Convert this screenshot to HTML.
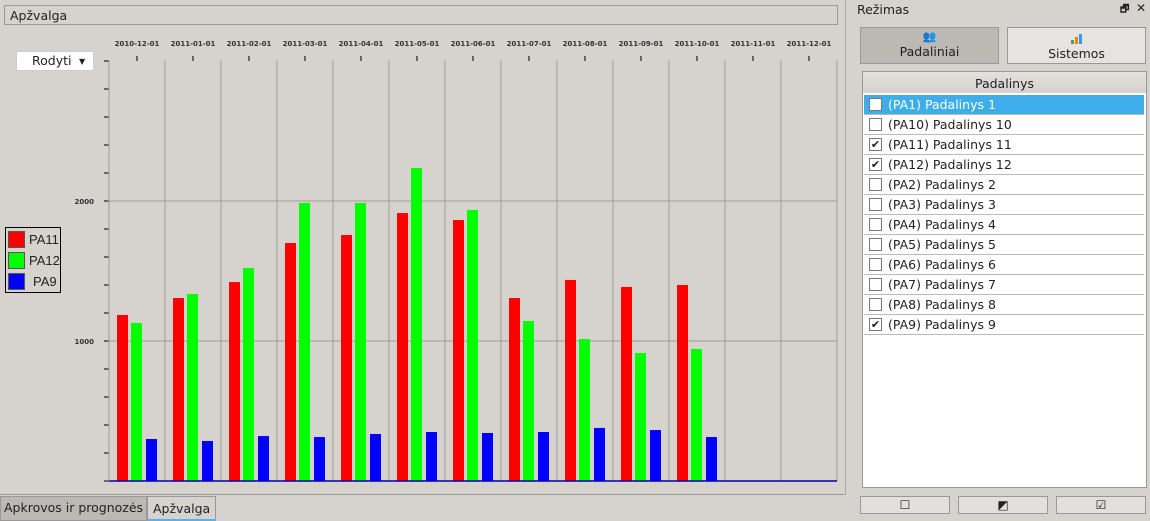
<!DOCTYPE html>
<html><head><meta charset="utf-8"><style>
body{margin:0;width:1150px;height:519px;background:#d6d2ce;font-family:"DejaVu Sans","Liberation Sans",sans-serif;font-size:12px;color:#222;position:relative;overflow:hidden}
.abs{position:absolute}
.row{position:absolute;left:864px;width:280px;height:19px;border-bottom:1px solid #bdbab6;background:#fff}
.cb{position:absolute;left:5px;top:3px;width:11px;height:11px;border:1px solid #777;background:#fff;font-size:11px;line-height:11px;text-align:center}
.rt{position:absolute;left:24px;top:2px;font-size:12.5px}
.btn{position:absolute;top:496px;height:16px;width:88px;border:1px solid #999;background:#e2dfdc;text-align:center;font-size:12px;line-height:16px}
</style></head><body>
<div class="abs" style="left:4px;top:5px;width:832px;height:18px;border:1px solid #999;"><span style="position:absolute;left:5px;top:2px;font-size:12.5px">Apžvalga</span></div>
<div class="abs" style="left:16px;top:51px;width:76px;height:18px;background:#fff;border:1px solid #ccc;"><span style="position:absolute;left:15px;top:1px;font-size:12.5px">Rodyti</span><span style="position:absolute;left:62px;top:5px;font-size:8px">▼</span></div>
<div class="abs" style="left:5px;top:227px;width:54px;height:64px;border:1px solid #000;">
<div style="position:absolute;left:2px;top:3px;width:15px;height:15px;background:#f00;border:1px solid #555"></div><span style="position:absolute;left:23px;top:4px;font-family:'Liberation Sans';font-size:13px">PA11</span>
<div style="position:absolute;left:2px;top:24px;width:15px;height:15px;background:#0f0;border:1px solid #555"></div><span style="position:absolute;left:23px;top:25px;font-family:'Liberation Sans';font-size:13px">PA12</span>
<div style="position:absolute;left:2px;top:45px;width:15px;height:15px;background:#00f;border:1px solid #555"></div><span style="position:absolute;left:27px;top:46px;font-family:'Liberation Sans';font-size:13px">PA9</span>
</div>
<svg class="abs" style="left:0;top:0" width="845" height="495" id="chart"></svg>
<div class="abs" style="left:845px;top:0;width:1px;height:495px;background:#aaa"></div>
<div class="abs" style="left:0;top:494px;width:845px;height:1px;background:#999"></div>
<div class="abs" style="left:0;top:496px;width:145px;height:23px;background:#bcb8b4;border:1px solid #999"><span style="position:absolute;left:3px;top:3px;font-size:12.5px">Apkrovos ir prognozės</span></div>
<div class="abs" style="left:147px;top:496px;width:67px;height:22px;background:#d6d2ce;border:1px solid #999;border-bottom:2px solid #5cb0e8"><span style="position:absolute;left:5px;top:4px;font-size:12.5px">Apžvalga</span></div>
<div class="abs" style="left:857px;top:2px;font-size:12.5px">Režimas</div>
<div class="abs" style="left:1120px;top:2px;font-size:10px;font-weight:bold">🗗</div>
<div class="abs" style="left:1136px;top:1px;font-size:12px;font-weight:bold">✕</div>
<div class="abs" style="left:860px;top:27px;width:137px;height:35px;background:#bcb8b4;border:1px solid #999;text-align:center"><div style="font-size:11px;color:#d70;margin-top:2px">👥</div><div style="font-size:12.5px;margin-top:1px">Padaliniai</div></div>
<div class="abs" style="left:1007px;top:27px;width:137px;height:35px;background:#e6e3e0;border:1px solid #999;text-align:center"><div style="margin:6px auto 0;width:12px;height:10px;position:relative"><span style="position:absolute;left:0;bottom:0;width:3px;height:4px;background:#4a4"></span><span style="position:absolute;left:4px;bottom:0;width:3px;height:7px;background:#e80"></span><span style="position:absolute;left:8px;bottom:0;width:3px;height:10px;background:#39e"></span></div><div style="font-size:12.5px;margin-top:2px">Sistemos</div></div>
<div class="abs" style="left:862px;top:71px;width:283px;height:415px;background:#fff;border:1px solid #999"></div>
<div class="abs" style="left:863px;top:72px;width:283px;height:21px;background:linear-gradient(#e4e1de,#d6d2ce);text-align:center;font-size:12.5px;line-height:24px">Padalinys</div>
<div id="rows"></div>
<div class="btn" style="left:860px">☐</div>
<div class="btn" style="left:958px">◩</div>
<div class="btn" style="left:1056px">☑</div>
<script>
const categories=["2010-12-01","2011-01-01","2011-02-01","2011-03-01","2011-04-01","2011-05-01","2011-06-01","2011-07-01","2011-08-01","2011-09-01","2011-10-01","2011-11-01","2011-12-01"];
const pa11=[1186,1307,1421,1700,1757,1914,1864,1307,1436,1386,1400,0,0];
const pa12=[1129,1336,1521,1986,1986,2236,1936,1143,1014,914,943,0,0];
const pa9=[300,286,321,314,336,350,343,350,379,364,314,0,0];
const yLabels=[1000,2000];
const NS="http://www.w3.org/2000/svg";
const svg=document.getElementById('chart');
const L=109,R=837,T=61,B=481,band=56;
const y=v=>B-v*0.14;
const x=i=>L+i*band;
function mk(t,a,p){const e=document.createElementNS(NS,t);for(const k in a)e.setAttribute(k,a[k]);(p||svg).appendChild(e);return e;}
for(let i=0;i<=categories.length;i++){const g=mk('line',{x1:x(i),x2:x(i),y1:T,y2:B,stroke:'#a09d9a'});}
for(let v=0;v<=3000;v+=200){const t=mk('line',{x1:104,x2:L,y1:y(v),y2:y(v),stroke:'#000'});}
yLabels.forEach(v=>{const g=mk('line',{x1:L,x2:R,y1:y(v),y2:y(v),stroke:'#a09d9a'});
const t=mk('text',{x:94,y:y(v)+3,'text-anchor':'end','font-size':'7','font-weight':'bold','font-family':'DejaVu Sans',fill:'#333'});t.textContent=v;});
categories.forEach((c,i)=>{const cx=x(i)+band/2;
const tk=mk('line',{x1:cx,x2:cx,y1:56,y2:61,stroke:'#000'});
const t=mk('text',{x:cx,y:46,'text-anchor':'middle','font-size':'7','font-weight':'bold','font-family':'DejaVu Sans',fill:'#333'});t.textContent=c;
[[pa11,8,'#f00','pa11'],[pa12,22,'#0f0','pa12'],[pa9,37,'#00f','pa9']].forEach(([arr,off,col,n])=>{if(arr[i]<=0)return;
const r=mk('rect',{x:x(i)+off,y:y(arr[i]),width:11,height:B-y(arr[i]),fill:col});});});
const ax=mk('line',{x1:L,x2:R,y1:B,y2:B,stroke:'#00a','stroke-width':1.5});
const ya=mk('line',{x1:L,x2:L,y1:T,y2:B,stroke:'#a09d9a'});
const items=[["(PA1) Padalinys 1",0],["(PA10) Padalinys 10",0],["(PA11) Padalinys 11",1],["(PA12) Padalinys 12",1],["(PA2) Padalinys 2",0],["(PA3) Padalinys 3",0],["(PA4) Padalinys 4",0],["(PA5) Padalinys 5",0],["(PA6) Padalinys 6",0],["(PA7) Padalinys 7",0],["(PA8) Padalinys 8",0],["(PA9) Padalinys 9",1]];
const rows=document.getElementById('rows');
items.forEach((it,i)=>{const d=document.createElement('div');d.className='row';d.style.top=(95+i*20)+'px';


if(i==0){d.style.background='#3daee9';d.style.color='#fff';}
d.innerHTML='<div class="cb">'+(it[1]?'✔':'')+'</div><span class="rt">'+it[0]+'</span>';rows.appendChild(d);});
</script>
</body></html>
